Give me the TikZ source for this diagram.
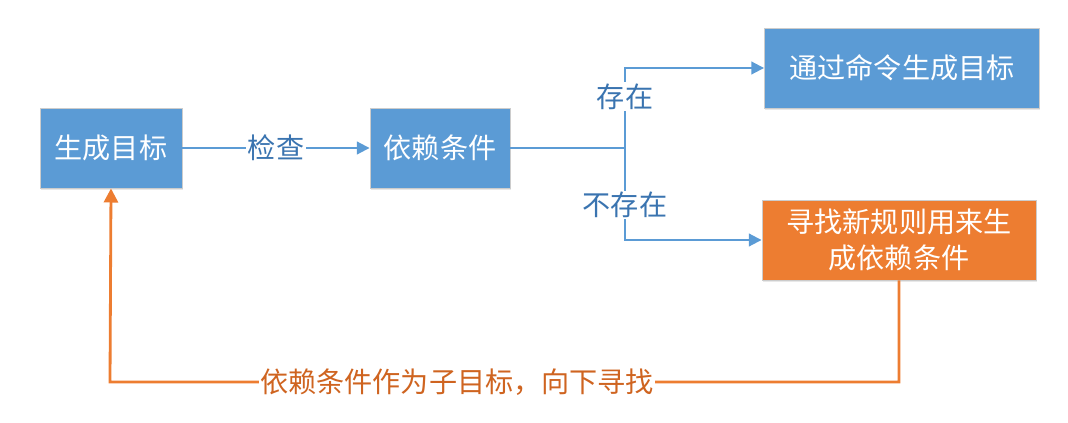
\documentclass[tikz,border=0pt]{standalone}
\usepackage{fontspec}
\newfontfamily\cjk{Noto Sans CJK SC}
\usetikzlibrary{arrows.meta,shadows}
\definecolor{boxblue}{HTML}{5B9BD5}
\definecolor{boxorange}{HTML}{ED7D31}
\definecolor{labelblue}{HTML}{3A74B0}
\definecolor{labelorange}{HTML}{CF6420}
\tikzset{
  box/.style={draw=gray!40, line width=0.6pt, text=white, align=center, inner sep=0pt,
    font=\cjk\fontsize{20}{26}\selectfont, minimum height=2cm,
    drop shadow={opacity=0.18, shadow xshift=0.6pt, shadow yshift=-1.6pt}},
  bluebox/.style={box, fill=boxblue},
  orangebox/.style={box, fill=boxorange},
  link/.style={draw=boxblue, line width=1.4pt},
  flow/.style={link, -{Triangle[length=9pt,width=9pt]}},
  back/.style={draw=boxorange, line width=2pt, -{Triangle[length=10pt,width=10pt]}},
  lbl/.style={fill=white, inner sep=1pt, text=labelblue, font=\cjk\fontsize{20}{24}\selectfont},
  backlbl/.style={lbl, text=labelorange}
}
\begin{document}
\begin{tikzpicture}[x=0.025cm, y=-0.025cm]
  \useasboundingbox (0,0) rectangle (1068,422);
  % boxes
  \node[bluebox, minimum width=3.55cm] (goal) at (111,148) {生成目标};
  \node[bluebox, minimum width=3.5cm] (dep) at (440,148) {依赖条件};
  \node[bluebox, minimum width=6.875cm] (cmd) at (902,68) {通过命令生成目标};
  \node[orangebox, minimum width=6.85cm] (rule) at (899,240) {寻找新规则用来生\\成依赖条件};
  \coordinate (fork) at (625,148);
  \coordinate (low) at (110,382);
  % connectors
  \draw[flow] (goal) -- node[lbl] {检查} (dep);
  \draw[link] (dep.east) -- (fork);
  \draw[flow] (fork) -- node[lbl, pos=0.64] {存在} (fork |- cmd.west) -- (cmd.west);
  \draw[flow] (fork) -- node[lbl, pos=0.62] {不存在} (fork |- rule.west) -- (rule.west);
  \draw[back] (rule.south) -- (rule.south |- low) -- node[backlbl, pos=0.56] {依赖条件作为子目标，向下寻找} (low) -- (goal.south);
\end{tikzpicture}
\end{document}
